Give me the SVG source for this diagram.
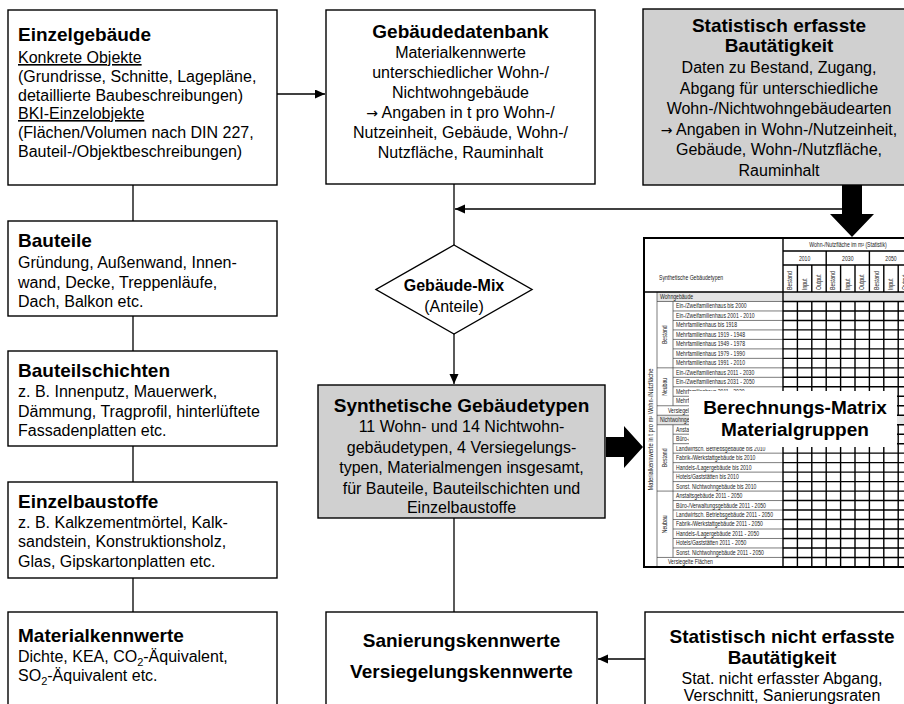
<svg xmlns="http://www.w3.org/2000/svg" width="904" height="704" viewBox="0 0 904 704">
<defs>
<style>
.box{fill:#fff;stroke:#000;stroke-width:1.4}
.gbox{fill:#d0d0d0;stroke:#000;stroke-width:1.4}
.t{font-family:"Liberation Sans",Arial,Helvetica,sans-serif;fill:#000}
.h{font-weight:bold;font-size:19px}
.b{font-size:16px}
.c{text-anchor:middle}
.ar{font-family:"DejaVu Sans",sans-serif;font-size:14px}
.ln{stroke:#000;stroke-width:1.3;fill:none}
.m{font-family:"Liberation Sans",Arial,sans-serif;font-size:6.4px;fill:#222}
.gridT{stroke:#000;stroke-width:1.4;fill:none}
.gridt{stroke:#444;stroke-width:0.7;fill:none}
.u{text-decoration:underline}
</style>
<marker id="ah" markerUnits="userSpaceOnUse" markerWidth="11" markerHeight="10" refX="10" refY="4.5" orient="auto">
<path d="M0,0 L10,4.5 L0,9 z" fill="#000"/>
</marker>
</defs>
<rect width="904" height="704" fill="#fff"/>

<!-- connectors -->
<g id="connectors">
<path class="ln" d="M133 185 V221 M133 316 V351 M133 446 V482 M133 578 V612"/>
<path class="ln" d="M277 94 H325" marker-end="url(#ah)"/>
<path class="ln" d="M454 184 V245"/>
<path class="ln" d="M843 209 H455" marker-end="url(#ah)"/>
<path class="ln" d="M454 334 V384" marker-end="url(#ah)"/>
<path class="ln" d="M454 518 V612"/>
<path class="ln" d="M645 659 H598" marker-end="url(#ah)"/>
<polygon points="842,185 862,185 862,214 874,214 852,237 830,214 842,214" fill="#000"/>
<polygon points="606,437 624,437 624,426 643,447 624,468 624,457 606,457" fill="#000"/>
</g>

<!-- left column -->
<g id="einzelgebaeude">
<rect class="box" x="8" y="10" width="269" height="175"/>
<text class="t h" x="18" y="41">Einzelgebäude</text>
<text class="t b" x="18" y="63"><tspan class="u">Konkrete Objekte</tspan></text>
<text class="t b" x="18" y="82">(Grundrisse, Schnitte, Lagepläne,</text>
<text class="t b" x="18" y="100.5">detaillierte Baubeschreibungen)</text>
<text class="t b" x="18" y="119"><tspan class="u">BKI-Einzelobjekte</tspan></text>
<text class="t b" x="18" y="138">(Flächen/Volumen nach DIN 227,</text>
<text class="t b" x="18" y="157">Bauteil-/Objektbeschreibungen)</text>
</g>

<g id="bauteile">
<rect class="box" x="8" y="221" width="269" height="95"/>
<text class="t h" x="18" y="247">Bauteile</text>
<text class="t b" x="18" y="268">Gründung, Außenwand, Innen-</text>
<text class="t b" x="18" y="287.5">wand, Decke, Treppenläufe,</text>
<text class="t b" x="18" y="307">Dach, Balkon etc.</text>
</g>

<g id="bauteilschichten">
<rect class="box" x="8" y="351" width="269" height="95"/>
<text class="t h" x="18" y="377">Bauteilschichten</text>
<text class="t b" x="18" y="397">z. B. Innenputz, Mauerwerk,</text>
<text class="t b" x="18" y="417">Dämmung, Tragprofil, hinterlüftete</text>
<text class="t b" x="18" y="436">Fassadenplatten etc.</text>
</g>

<g id="einzelbaustoffe">
<rect class="box" x="8" y="482" width="269" height="96"/>
<text class="t h" x="18" y="508">Einzelbaustoffe</text>
<text class="t b" x="18" y="528">z. B. Kalkzementmörtel, Kalk-</text>
<text class="t b" x="18" y="547">sandstein, Konstruktionsholz,</text>
<text class="t b" x="18" y="567">Glas, Gipskartonplatten etc.</text>
</g>

<g id="materialkennwerte">
<rect class="box" x="8" y="612" width="269" height="100"/>
<text class="t h" x="18" y="642">Materialkennwerte</text>
<text class="t b" x="18" y="662">Dichte, KEA, CO<tspan font-size="11" dy="4">2</tspan><tspan dy="-4">-Äquivalent,</tspan></text>
<text class="t b" x="18" y="681">SO<tspan font-size="11" dy="4">2</tspan><tspan dy="-4">-Äquivalent etc.</tspan></text>
</g>

<!-- middle column -->
<g id="gebaeudedatenbank">
<rect class="box" x="326" y="10" width="269" height="174"/>
<text class="t h c" x="460.5" y="38">Gebäudedatenbank</text>
<text class="t b c" x="460.5" y="58">Materialkennwerte</text>
<text class="t b c" x="460.5" y="78">unterschiedlicher Wohn-/</text>
<text class="t b c" x="460.5" y="98">Nichtwohngebäude</text>
<text class="t b c" x="460.5" y="118"><tspan class="ar">→</tspan> Angaben in t pro Wohn-/</text>
<text class="t b c" x="460.5" y="138">Nutzeinheit, Gebäude, Wohn-/</text>
<text class="t b c" x="460.5" y="158">Nutzfläche, Rauminhalt</text>
</g>

<g id="gebaeudemix">
<polygon class="box" points="454,245 532,289.5 454,334 376,289.5"/>
<text class="t c" x="454" y="291" font-size="16" font-weight="bold">Gebäude-Mix</text>
<text class="t b c" x="454" y="312">(Anteile)</text>
</g>

<g id="synthetische">
<rect class="gbox" x="318" y="385" width="287" height="133"/>
<text class="t h c" x="461.5" y="412">Synthetische Gebäudetypen</text>
<text class="t b c" x="461.5" y="432">11 Wohn- und 14 Nichtwohn-</text>
<text class="t b c" x="461.5" y="452.5">gebäudetypen, 4 Versiegelungs-</text>
<text class="t b c" x="461.5" y="473">typen, Materialmengen insgesamt,</text>
<text class="t b c" x="461.5" y="493.5">für Bauteile, Bauteilschichten und</text>
<text class="t b c" x="461.5" y="513">Einzelbaustoffe</text>
</g>

<g id="sanierung">
<rect class="box" x="326" y="612" width="271" height="100"/>
<text class="t h c" x="461.5" y="647">Sanierungskennwerte</text>
<text class="t h c" x="461.5" y="678">Versiegelungskennwerte</text>
</g>

<!-- right column -->
<g id="statistisch-erfasst">
<rect class="gbox" x="643" y="9" width="280" height="176"/>
<text class="t h c" x="779" y="32">Statistisch erfasste</text>
<text class="t h c" x="779" y="52">Bautätigkeit</text>
<text class="t b c" x="779" y="73">Daten zu Bestand, Zugang,</text>
<text class="t b c" x="779" y="93.5">Abgang für unterschiedliche</text>
<text class="t b c" x="779" y="114">Wohn-/Nichtwohngebäudearten</text>
<text class="t b c" x="779" y="134.5"><tspan class="ar">→</tspan> Angaben in Wohn-/Nutzeinheit,</text>
<text class="t b c" x="779" y="155">Gebäude, Wohn-/Nutzfläche,</text>
<text class="t b c" x="779" y="175.5">Rauminhalt</text>
</g>

<g id="nicht-erfasst">
<rect class="box" x="645" y="612" width="280" height="100"/>
<text class="t h c" x="782" y="643">Statistisch nicht erfasste</text>
<text class="t h c" x="782" y="664">Bautätigkeit</text>
<text class="t b c" x="782" y="684">Stat. nicht erfasster Abgang,</text>
<text class="t b c" x="782" y="701">Verschnitt, Sanierungsraten</text>
</g>

<!-- matrix -->
<g id="matrix">
<rect x="644" y="238" width="269" height="329" fill="#fff"/>
<rect x="657" y="292" width="256" height="9.48" fill="#e4e4e4"/>
<rect x="657" y="415.24" width="256" height="9.48" fill="#e4e4e4"/>
<path class="gridt" d="M657 301.48 H783 M657 367.84 H783 M657 405.76 H783 M657 415.24 H783 M657 424.72 H783 M657 491.08 H783 M657 557.44 H783
M673 310.96 H783 M673 320.44 H783 M673 329.92 H783 M673 339.40 H783 M673 348.88 H783 M673 358.36 H783
M673 377.32 H783 M673 386.80 H783 M673 396.28 H783
M673 434.20 H783 M673 443.68 H783 M673 453.16 H783 M673 462.64 H783 M673 472.12 H783 M673 481.60 H783
M673 500.56 H783 M673 510.04 H783 M673 519.52 H783 M673 529.00 H783 M673 538.48 H783 M673 547.96 H783
M657 292 V566.92 M673 301.48 V405.76 M673 424.72 V557.44"/>
<path class="gridT" d="M783 251 H913 M783 265 H913 M644 292 H913
M783 301.48 H913 M783 310.96 H913 M783 320.44 H913 M783 329.92 H913 M783 339.40 H913 M783 348.88 H913 M783 358.36 H913 M783 367.84 H913 M783 377.32 H913 M783 386.80 H913 M783 396.28 H913 M783 405.76 H913 M783 415.24 H913 M783 424.72 H913 M783 434.20 H913 M783 443.68 H913 M783 453.16 H913 M783 462.64 H913 M783 472.12 H913 M783 481.60 H913 M783 491.08 H913 M783 500.56 H913 M783 510.04 H913 M783 519.52 H913 M783 529.00 H913 M783 538.48 H913 M783 547.96 H913 M783 557.44 H913
M783 238 V567
M797.4 265 V292 M797.4 301.48 V415.24 M797.4 424.72 V566.92
M811.8 265 V292 M811.8 301.48 V415.24 M811.8 424.72 V566.92
M826.2 251 V292 M826.2 301.48 V415.24 M826.2 424.72 V566.92
M840.6 265 V292 M840.6 301.48 V415.24 M840.6 424.72 V566.92
M855 265 V292 M855 301.48 V415.24 M855 424.72 V566.92
M869.4 251 V292 M869.4 301.48 V415.24 M869.4 424.72 V566.92
M883.8 265 V292 M883.8 301.48 V415.24 M883.8 424.72 V566.92
M898.2 265 V292 M898.2 301.48 V415.24 M898.2 424.72 V566.92"/>
<rect x="644" y="238" width="269" height="329" fill="none" stroke="#000" stroke-width="2"/>
<g transform="scale(0.8 1)">
<text class="m" x="823.75" y="280">Synthetische Gebäudetypen</text>
<text class="m c" x="1060" y="247.5">Wohn-/Nutzfläche im m² (Statistik)</text>
<text class="m c" x="1005.75" y="261">2010</text>
<text class="m c" x="1059.75" y="261">2030</text>
<text class="m c" x="1113.75" y="261">2050</text>
<text class="m" x="825" y="299">Wohngebäude</text>
<text class="m" x="845" y="308.5">Ein-/Zweifamilienhaus bis 2000</text>
<text class="m" x="845" y="318">Ein-/Zweifamilienhaus 2001 - 2010</text>
<text class="m" x="845" y="327.4">Mehrfamilienhaus bis 1918</text>
<text class="m" x="845" y="336.9">Mehrfamilienhaus 1919 - 1948</text>
<text class="m" x="845" y="346.4">Mehrfamilienhaus 1949 - 1978</text>
<text class="m" x="845" y="355.9">Mehrfamilienhaus 1979 - 1990</text>
<text class="m" x="845" y="365.4">Mehrfamilienhaus 1991 - 2010</text>
<text class="m" x="845" y="374.8">Ein-/Zweifamilienhaus 2011 - 2030</text>
<text class="m" x="845" y="384.3">Ein-/Zweifamilienhaus 2031 - 2050</text>
<text class="m" x="845" y="393.8">Mehrfamilienhaus 2011 - 2030</text>
<text class="m" x="845" y="403.3">Mehrfamilienhaus 2031 - 2050</text>
<text class="m" x="835" y="412.8">Versiegelte Flächen</text>
<text class="m" x="825" y="422.2">Nichtwohngebäude</text>
<text class="m" x="845" y="431.7">Anstaltsgebäude bis 2010</text>
<text class="m" x="845" y="441.2">Büro-/Verwaltungsgebäude bis 2010</text>
<text class="m" x="845" y="450.7">Landwirtsch. Betriebsgebäude bis 2010</text>
<text class="m" x="845" y="460.2">Fabrik-/Werkstattgebäude bis 2010</text>
<text class="m" x="845" y="469.6">Handels-/Lagergebäude bis 2010</text>
<text class="m" x="845" y="479.1">Hotels/Gaststätten bis 2010</text>
<text class="m" x="845" y="488.6">Sonst. Nichtwohngebäude bis 2010</text>
<text class="m" x="845" y="498.1">Anstaltsgebäude 2011 - 2050</text>
<text class="m" x="845" y="507.6">Büro-/Verwaltungsgebäude 2011 - 2050</text>
<text class="m" x="845" y="517">Landwirtsch. Betriebsgebäude 2011 - 2050</text>
<text class="m" x="845" y="526.5">Fabrik-/Werkstattgebäude 2011 - 2050</text>
<text class="m" x="845" y="536">Handels-/Lagergebäude 2011 - 2050</text>
<text class="m" x="845" y="545.5">Hotels/Gaststätten 2011 - 2050</text>
<text class="m" x="845" y="555">Sonst. Nichtwohngebäude 2011 - 2050</text>
<text class="m" x="835" y="564.4">Versiegelte Flächen</text>
</g>
<text class="m c" transform="translate(667 334.7) rotate(-90) scale(0.8 1)">Bestand</text>
<text class="m c" transform="translate(667 386.8) rotate(-90) scale(0.8 1)">Neubau</text>
<text class="m c" transform="translate(667 457.9) rotate(-90) scale(0.8 1)">Bestand</text>
<text class="m c" transform="translate(667 524.3) rotate(-90) scale(0.8 1)">Neubau</text>
<text class="m c" transform="translate(652.5 429.5) rotate(-90)" font-size="5.6" textLength="122" lengthAdjust="spacingAndGlyphs">Materialkennwerte in t pro m² Wohn-/Nutzfläche</text>
<text class="m" transform="translate(792.2 290) rotate(-90) scale(0.8 1)">Bestand</text>
<text class="m" transform="translate(806.6 290) rotate(-90) scale(0.8 1)">Input</text>
<text class="m" transform="translate(821 290) rotate(-90) scale(0.8 1)">Output</text>
<text class="m" transform="translate(835.4 290) rotate(-90) scale(0.8 1)">Bestand</text>
<text class="m" transform="translate(849.8 290) rotate(-90) scale(0.8 1)">Input</text>
<text class="m" transform="translate(864.2 290) rotate(-90) scale(0.8 1)">Output</text>
<text class="m" transform="translate(878.6 290) rotate(-90) scale(0.8 1)">Bestand</text>
<text class="m" transform="translate(893 290) rotate(-90) scale(0.8 1)">Input</text>
<text class="m" transform="translate(907.4 290) rotate(-90) scale(0.8 1)">Output</text>
<rect x="689" y="391" width="208" height="56" fill="#fff"/>
<text class="t h c" x="795" y="414">Berechnungs-Matrix</text>
<text class="t h c" x="795" y="436">Materialgruppen</text>
</g>
</svg>
